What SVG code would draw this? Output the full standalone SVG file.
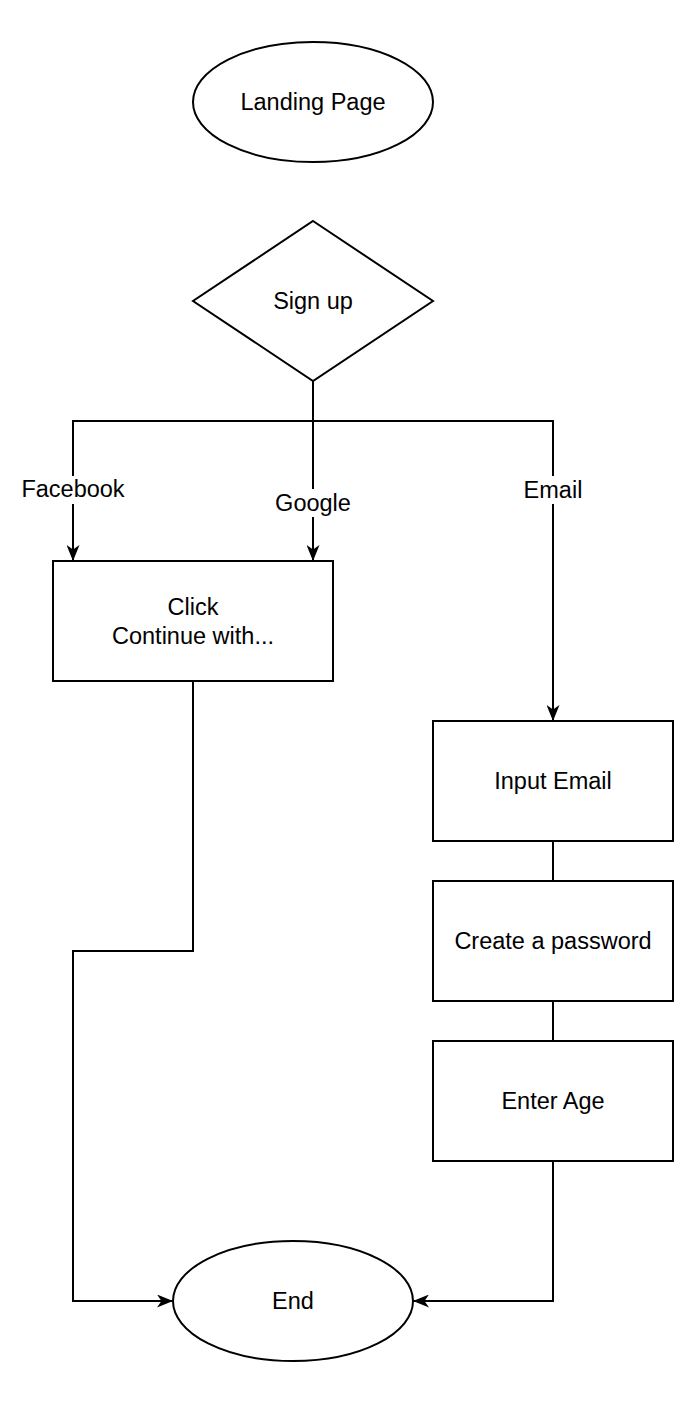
<svg xmlns="http://www.w3.org/2000/svg" width="694" height="1402" viewBox="0 0 694 1402">
<defs>
<style>
.shape{fill:#fff;stroke:#000;stroke-width:2}
.edge{fill:none;stroke:#000;stroke-width:2}
text{font-family:"Liberation Sans",Arial,sans-serif;font-size:23.5px;fill:#000;text-anchor:middle;dominant-baseline:central}
.lbl{fill:#fff;stroke:none}
</style>
<marker id="arr" viewBox="0 0 16 13" refX="16" refY="6.5" markerWidth="16" markerHeight="13" markerUnits="userSpaceOnUse" orient="auto">
<path d="M0,0 L16,6.5 L0,13 L4.5,6.5 Z" fill="#000"/>
</marker>
</defs>
<rect width="694" height="1402" fill="#fff"/>
<g id="connectors">
<path class="edge" d="M313,381 V421 H73 V561" marker-end="url(#arr)"/>
<path class="edge" d="M313,421 V561" marker-end="url(#arr)"/>
<path class="edge" d="M313,421 H553 V721" marker-end="url(#arr)"/>
<path class="edge" d="M193,681 V951 H73 V1301 H173" marker-end="url(#arr)"/>
<path class="edge" d="M553,841 V881"/>
<path class="edge" d="M553,1001 V1041"/>
<path class="edge" d="M553,1161 V1301 H413" marker-end="url(#arr)"/>
<rect class="lbl" x="14" y="476" width="118" height="28"/>
<text x="73" y="489">Facebook</text>
<rect class="lbl" x="268" y="489" width="90" height="28"/>
<text x="313" y="503">Google</text>
<rect class="lbl" x="518" y="476" width="70" height="28"/>
<text x="553" y="490">Email</text>
</g>
<g id="landing">
<ellipse class="shape" cx="313" cy="102" rx="120" ry="60"/>
<text x="313" y="102">Landing Page</text>
</g>
<g id="signup">
<path class="shape" d="M313,221 L433,301 L313,381 L193,301 Z"/>
<text x="313" y="301">Sign up</text>
</g>
<g id="click">
<rect class="shape" x="53" y="561" width="280" height="120"/>
<text x="193" y="607">Click</text>
<text x="193" y="636">Continue with...</text>
</g>
<g id="inputEmail">
<rect class="shape" x="433" y="721" width="240" height="120"/>
<text x="553" y="781">Input Email</text>
</g>
<g id="password">
<rect class="shape" x="433" y="881" width="240" height="120"/>
<text x="553" y="941">Create a password</text>
</g>
<g id="age">
<rect class="shape" x="433" y="1041" width="240" height="120"/>
<text x="553" y="1101">Enter Age</text>
</g>
<g id="end">
<ellipse class="shape" cx="293" cy="1301" rx="120" ry="60"/>
<text x="293" y="1301">End</text>
</g>
</svg>
